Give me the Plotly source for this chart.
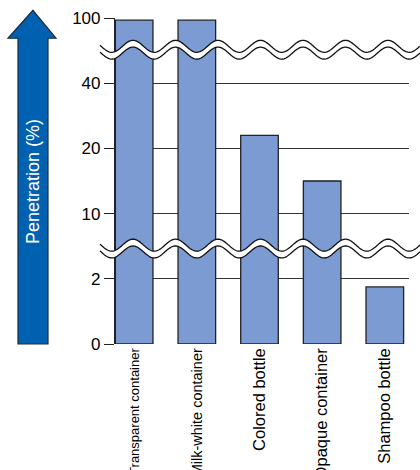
import numpy as np
import plotly.graph_objects as go

categories = ["Transparent container", "Milk-white container", "Colored bottle",
              "Opaque container", "Shampoo bottle"]
penetration = [98, 98, 24, 15, 1.75]
tick_values = [0, 2, 10, 20, 40, 100]
tick_labels = ["0", "2", "10", "20", "40", "100"]
label_sizes = [13, 14.5, 16.5, 16.5, 16.5]

# broken axis: each tick interval gets equal height
tick_pos = list(range(len(tick_values)))
bar_pos = np.interp(penetration, tick_values, tick_pos)

W, H = 420, 470
L, R, T, B = 115, 11, 17.75, 126
PW = W - L - R
PH = H - T - B

def px(x):
    return (x - L) / PW

def py(y):
    return (H - B - y) / PH

fig = go.Figure()
fig.add_trace(go.Bar(
    x=list(range(len(categories))), y=bar_pos, width=0.6,
    marker=dict(color="#7b9bd2", line=dict(color="#222222", width=1.3)),
    hoverinfo="skip"))

shapes = []
# arrow
arrow_pts = [(33, 10), (56, 38), (48, 38), (48, 344), (18, 344), (18, 38), (8, 38)]
path = "M " + " L ".join(f"{px(a):.5f},{py(b):.5f}" for a, b in arrow_pts) + " Z"
shapes.append(dict(type="path", xref="paper", yref="paper", path=path,
                   fillcolor="#0061b1", line=dict(color="#1a2a3a", width=1.2),
                   layer="above"))

# wavy break bands
xs = np.arange(100, 421, 1.0)
for c in (49.5, 248.5):
    center = c - 6.0 * np.cos(2 * np.pi * (xs - 133) / 42.5)
    top = center - 3.4
    bot = center + 3.4
    fill_path = ("M " + " L ".join(f"{px(a):.5f},{py(b):.5f}" for a, b in zip(xs, top))
                 + " L " + " L ".join(f"{px(a):.5f},{py(b):.5f}" for a, b in zip(xs[::-1], bot[::-1]))
                 + " Z")
    shapes.append(dict(type="path", xref="paper", yref="paper", path=fill_path,
                       fillcolor="white", line=dict(width=0), layer="above"))
    for line_y in (top, bot):
        lp = "M " + " L ".join(f"{px(a):.5f},{py(b):.5f}" for a, b in zip(xs, line_y))
        shapes.append(dict(type="path", xref="paper", yref="paper", path=lp,
                           line=dict(color="#111111", width=1.3), layer="above"))

ticktext = [f"<span style='font-size:{s}px'>{c}</span>" for c, s in zip(categories, label_sizes)]

fig.update_layout(
    width=W, height=H,
    margin=dict(l=L, r=R, t=T, b=B, autoexpand=False),
    paper_bgcolor="white", plot_bgcolor="white",
    showlegend=False,
    font=dict(family="Liberation Sans, Arial, sans-serif", color="black"),
    shapes=shapes,
    annotations=[dict(text="Penetration (%)", xref="paper", yref="paper",
                      x=px(33), y=py(182), xanchor="center", yanchor="middle",
                      textangle=-90, showarrow=False,
                      font=dict(size=18, color="white",
                                family="Liberation Sans, Arial, sans-serif"))],
    bargap=0.4,
)
fig.update_xaxes(
    range=[-0.306, 4.386], tickvals=list(range(len(categories))), ticktext=ticktext,
    tickangle=-90, tickfont=dict(size=16), showgrid=False, zeroline=False,
    showline=False, ticks="", automargin=False)
fig.update_yaxes(
    range=[0, 5], tickvals=tick_pos, ticktext=tick_labels,
    tickfont=dict(size=17), showgrid=True, gridcolor="#333333", gridwidth=1.2,
    zeroline=False, showline=True, linecolor="#222222", linewidth=1.2,
    ticks="outside", ticklen=10, tickcolor="#222222", tickwidth=1.2,
    automargin=False)

fig.write_html("out.html", config={"displayModeBar": False},
               post_script="document.body.style.margin='0';")
